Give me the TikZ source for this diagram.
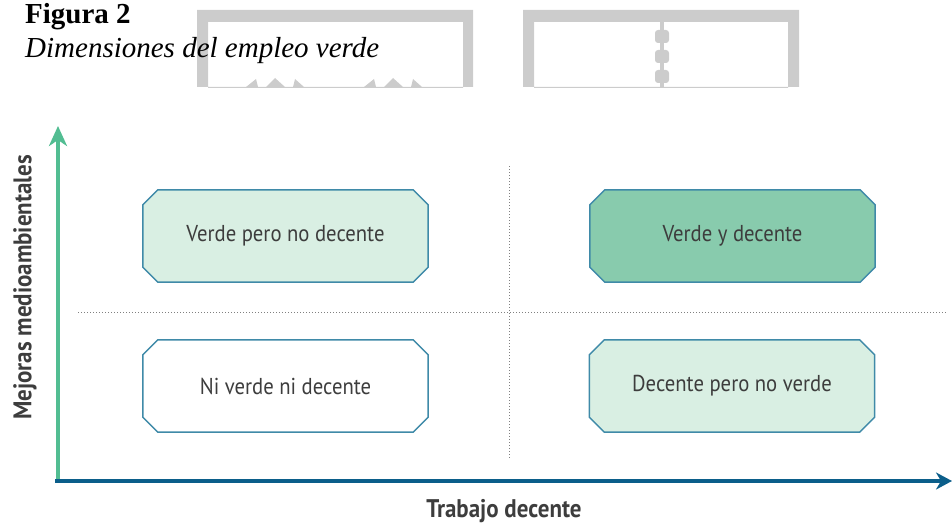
\documentclass[tikz,border=0pt]{standalone}
\usepackage{fontspec}
\setmainfont{Liberation Serif}
\newfontfamily\condfont[FakeStretch=0.9]{PT Sans}
\usetikzlibrary{arrows.meta,backgrounds}
\definecolor{axisgreen}{HTML}{52BD92}
\definecolor{axisblue}{HTML}{0B5E8A}
\definecolor{boxline}{HTML}{3F8AA8}
\definecolor{lightfill}{HTML}{D9EFE3}
\definecolor{darkfill}{HTML}{88CBAD}
\definecolor{textgray}{HTML}{3D3D3D}
\definecolor{wm}{HTML}{CCCCCC}
\tikzset{
  quad/.style={minimum width=285pt, minimum height=92pt, inner sep=0pt, text=textgray,
    font=\condfont\fontsize{23}{27}\selectfont},
  boxedge/.style={draw=boxline, line width=1.5pt, line join=round},
  dotline/.style={draw=gray, line width=1pt, dash pattern=on 1pt off 2pt},
  axislabel/.style={text=textgray, font=\condfont\bfseries\fontsize{25.5}{29}\selectfont, inner sep=0pt},
  wmfill/.style={fill=wm, draw=none}
}
\newcommand\chambox[2]{%
  \path[boxedge, fill=#2] ([xshift=15pt]#1.north west) -- ([xshift=-15pt]#1.north east)
    -- ([yshift=-15pt]#1.north east) -- ([yshift=15pt]#1.south east)
    -- ([xshift=-15pt]#1.south east) -- ([xshift=15pt]#1.south west)
    -- ([yshift=15pt]#1.south west) -- ([yshift=-15pt]#1.north west) -- cycle;}
\begin{document}
\begin{tikzpicture}[x=1pt,y=-1pt]
\useasboundingbox (0,0) rectangle (952,524);
% watermark
\fill[wmfill, even odd rule] (197,10) rectangle (473,87) (208,22) rectangle (463,88);
\fill[wmfill, even odd rule] (523,10) rectangle (799,87) (534,22) rectangle (788,88);
\fill[wmfill] (660,21) rectangle (664,87);
\foreach \yy in {36.5,56.5,76.5}{
  \fill[wmfill, rounded corners=3pt] (655,\yy-6.5) rectangle (669,\yy+6.5);
}
\foreach \dx in {0,118}{
  \fill[wmfill] (246+\dx,87) -- (256+\dx,79) -- (258+\dx,87) -- cycle;
  \fill[wmfill] (266+\dx,87) -- (275+\dx,78) -- (285+\dx,87) -- cycle;
  \fill[wmfill] (293+\dx,87) -- (295+\dx,79) -- (304+\dx,87) -- cycle;
}
% title
\node[anchor=base west, inner sep=0pt, font=\bfseries\fontsize{29}{33}\selectfont] (fig) at (25,24) {Figura 2};
\node[anchor=base west, inner sep=0pt, font=\itshape\fontsize{29}{33}\selectfont] (tit) at (25,58) {Dimensiones del empleo verde};
% dotted quadrant lines
\coordinate (vt) at (509,166);
\coordinate (vb) at (509,459);
\coordinate (hl) at (78,312);
\coordinate (hr) at (946,312);
\draw[dotline] (vt) -- (vb);
\draw[dotline] (hl) -- (hr);
% boxes
\node[quad] (vpnd) at (285.5,236) {Verde pero no decente};
\node[quad] (vyd) at (732.5,236) {Verde y decente};
\node[quad] (nvnd) at (285.5,386) {Ni verde ni decente};
\node[quad] (dpnv) at (732,386) {Decente pero no verde};
\begin{scope}[on background layer]
\chambox{vpnd}{lightfill}
\chambox{vyd}{darkfill}
\chambox{nvnd}{white}
\chambox{dpnv}{lightfill}
\end{scope}
% axes
\coordinate (o) at (58,481);
\coordinate (ytop) at (58,126);
\coordinate (o2) at (55,481);
\coordinate (xend) at (952,481);
\draw[axisgreen, line width=4pt, -{Stealth[length=20pt,width=18pt,inset=6pt]}] (o) -- (ytop);
\draw[axisblue, line width=4.5pt, -{Stealth[length=16pt,width=17pt,inset=5pt]}] (o2) -- (xend);
\node[axislabel, rotate=90] (ylab) at (25,287.5) {Mejoras medioambientales};
\node[axislabel] (xlab) at (504,511) {Trabajo decente};
\end{tikzpicture}
\end{document}
